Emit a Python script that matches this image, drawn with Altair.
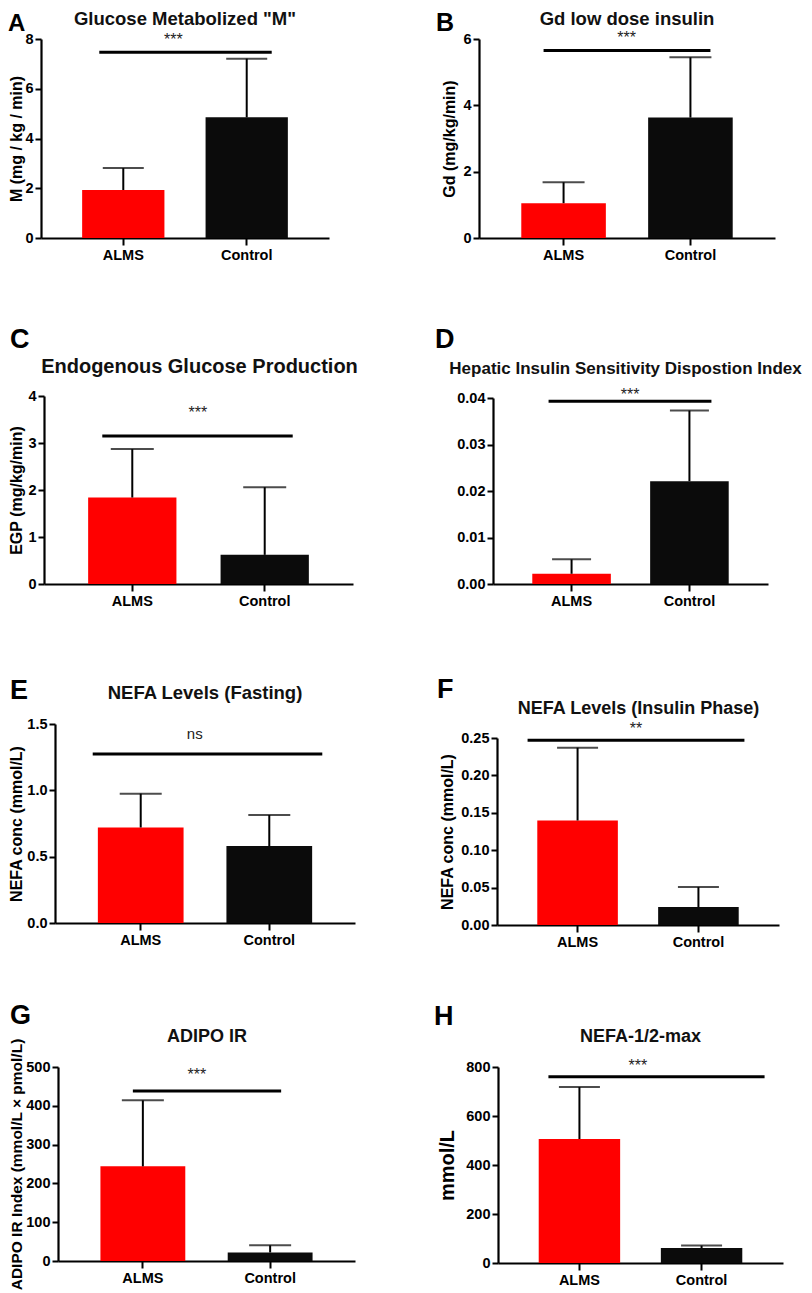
import altair as alt
import pandas as pd

# ---------------- data ----------------
CATS = ["ALMS", "Control"]
COLORS = ["#ff0000", "#0b0b0b"]

LETTERS = ["A", "B", "C", "D", "E", "F", "G", "H"]
TITLES = [
    'Glucose Metabolized "M"',
    "Gd low dose insulin",
    "Endogenous Glucose Production",
    "Hepatic Insulin Sensitivity Dispostion Index",
    "NEFA Levels (Fasting)",
    "NEFA Levels (Insulin Phase)",
    "ADIPO IR",
    "NEFA-1/2-max",
]
Y_TITLES = [
    "M (mg / kg / min)",
    "Gd (mg/kg/min)",
    "EGP (mg/kg/min)",
    "",
    "NEFA conc (mmol/L)",
    "NEFA conc (mmol/L)",
    "ADIPO IR Index (mmol/L × pmol/L)",
    "mmol/L",
]
MEANS = [
    [1.93, 4.85],
    [1.05, 3.63],
    [1.84, 0.62],
    [0.0022, 0.0221],
    [0.72, 0.58],
    [0.1397, 0.024],
    [244, 22],
    [506, 61],
]
TOPS = [
    [2.81, 7.21],
    [1.68, 5.45],
    [2.87, 2.06],
    [0.0053, 0.0373],
    [0.975, 0.814],
    [0.237, 0.0507],
    [414, 40.5],
    [718, 71],
]
SIG_Y = [7.47, 5.65, 3.15, 0.0393, 1.273, 0.247, 438, 760]
SIG_LABELS = ["***", "***", "***", "***", "ns", "**", "***", "***"]
Y_MAX = [8, 6, 4, 0.04, 1.5, 0.25, 500, 800]
Y_TICKS = [
    [0, 2, 4, 6, 8],
    [0, 2, 4, 6],
    [0, 1, 2, 3, 4],
    [0, 0.01, 0.02, 0.03, 0.04],
    [0, 0.5, 1.0, 1.5],
    [0, 0.05, 0.10, 0.15, 0.20, 0.25],
    [0, 100, 200, 300, 400, 500],
    [0, 200, 400, 600, 800],
]
Y_FMT = ["d", "d", "d", ".2f", ".1f", ".2f", "d", "d"]

# ---------------- layout (pixels inside the chart) ----------------
W, H = 796, 1284
LAYOUT = [
    dict(xr=(33, 321), yr=(230, 31), title=(177, 17, 18.5), letter=(0, 23, 24), tp=0, tfs=16,
         sig=(-24, 25), star=(50, -7.6), cap=41),
    dict(xr=(471, 767), yr=(230, 31), title=(619, 17, 18.5), letter=(428, 23, 25), tp=5, tfs=16,
         sig=(-20, 20), star=(63, -8), cap=42),
    dict(xr=(36, 345), yr=(576, 388), title=(191.5, 364.7, 20), letter=(2, 340, 27), tp=3, tfs=16,
         sig=(-30, 28), star=(65.5, -18.3), cap=43),
    dict(xr=(485, 760), yr=(576, 390), title=(617.5, 366, 17), letter=(427, 340, 27), tp=6, tfs=16,
         sig=(-23, 22), star=(58.5, -1.5), cap=39),
    dict(xr=(47, 347), yr=(915, 716), title=(197, 691, 18.5), letter=(2, 691, 27), tp=2, tfs=16,
         sig=(-48, 53), star=(54, -15), cap=42),
    dict(xr=(489, 771), yr=(917, 730), title=(630.5, 706, 18), letter=(429, 690, 27), tp=5, tfs=16,
         sig=(-50, 46), star=(58.5, -6), cap=41),
    dict(xr=(50, 347), yr=(1253, 1059), title=(199, 1033.7, 18), letter=(2, 1016, 27), tp=1, tfs=15.5,
         sig=(-10, 11), star=(54, -11.3), cap=42),
    dict(xr=(490, 775), yr=(1255, 1059), title=(632.5, 1033.7, 18), letter=(426, 1017, 27), tp=8, tfs=20,
         sig=(-31, 63), star=(58.5, -6), cap=41),
]

FONT = "Liberation Sans"


def panel(i):
    L = LAYOUT[i]
    x0, x1 = L["xr"]
    yb, yt = L["yr"]
    bars_df = pd.DataFrame({"group": CATS, "mean": MEANS[i], "top": TOPS[i]})
    sig_df = pd.DataFrame({"g1": [CATS[0]], "g2": [CATS[1]], "v": [SIG_Y[i]], "lab": [SIG_LABELS[i]]})
    title_df = pd.DataFrame({"t": [TITLES[i]]})
    letter_df = pd.DataFrame({"t": [LETTERS[i]]})

    xscale = alt.Scale(domain=CATS, range=[x0, x1], paddingInner=1 / 3, paddingOuter=1 / 3)
    yscale = alt.Scale(domain=[0, Y_MAX[i]], range=[yb, yt], nice=False, zero=True)
    xaxis = alt.Axis(orient="bottom", offset=yb - H, title=None, labelAngle=0,
                     tickSize=7, labelPadding=3, domainWidth=2.2, tickWidth=2)
    yargs = dict(orient="left", offset=-x0, values=Y_TICKS[i], format=Y_FMT[i],
                 tickSize=6, labelPadding=2, titlePadding=L["tp"], titleFontSize=L["tfs"],
                 domainWidth=2.2, tickWidth=2)
    if Y_TITLES[i]:
        yargs["title"] = Y_TITLES[i]
    else:
        yargs["title"] = None
    yaxis = alt.Axis(**yargs)

    def X(f):
        return alt.X(f, type="nominal", scale=xscale, axis=xaxis)

    def Y(f):
        return alt.Y(f, type="quantitative", scale=yscale, axis=yaxis)

    bars = alt.Chart(bars_df).mark_bar().encode(
        x=X("group"), y=Y("mean"),
        color=alt.Color("group:N", scale=alt.Scale(domain=CATS, range=COLORS), legend=None),
    )
    err = alt.Chart(bars_df).mark_rule(strokeWidth=2, color="#000").encode(
        x=X("group"), y=Y("mean"), y2=alt.Y2("top")
    )
    cap = alt.Chart(bars_df).mark_tick(size=L["cap"], thickness=2, color="#000").encode(
        x=X("group"), y=Y("top")
    )
    sig = alt.Chart(sig_df).mark_rule(strokeWidth=3, color="#000",
                                      xOffset=L["sig"][0], x2Offset=L["sig"][1]).encode(
        x=X("g1"), x2=alt.X2("g2"), y=Y("v")
    )
    star = alt.Chart(sig_df).mark_text(
        font=FONT, fontSize=15 if SIG_LABELS[i] == "ns" else 16, color="#222",
        align="center", baseline="alphabetic", dx=L["star"][0], dy=L["star"][1],
    ).encode(x=X("g1"), y=Y("v"), text="lab:N")
    tx, ty, tfs = L["title"]
    title = alt.Chart(title_df).mark_text(
        font=FONT, fontSize=tfs, fontWeight="bold", color="#111",
        align="center", baseline="alphabetic",
    ).encode(x=alt.value(tx), y=alt.value(ty), text="t:N")
    lx, ly, lfs = L["letter"]
    letter = alt.Chart(letter_df).mark_text(
        font=FONT, fontSize=lfs, fontWeight="bold", color="#000",
        align="left", baseline="alphabetic",
    ).encode(x=alt.value(lx), y=alt.value(ly), text="t:N")
    return alt.layer(bars, err, cap, sig, star, title, letter)


chart = (
    alt.layer(*[panel(i) for i in range(8)])
    .resolve_scale(x="independent", y="independent")
    .resolve_axis(x="independent", y="independent")
    .properties(width=W, height=H, padding=0, autosize=alt.AutoSizeParams(type="none"))
    .configure_view(stroke=None)
    .configure_axis(
        grid=False,
        domainColor="#000",
        tickColor="#000",
        labelFont=FONT,
        labelFontWeight="bold",
        labelFontSize=14.5,
        labelColor="#000",
        titleFont=FONT,
        titleFontWeight="bold",
        titleColor="#000",
        labelFlush=False,
        labelOverlap=False,
    )
)

chart.save("out.html", embed_options={"renderer": "svg", "actions": False})
